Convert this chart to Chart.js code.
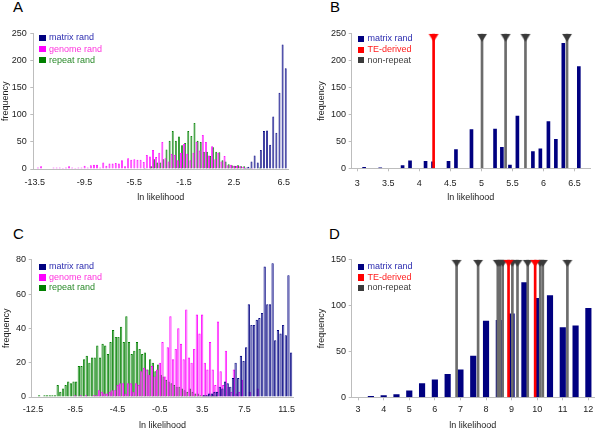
<!DOCTYPE html>
<html>
<head>
<meta charset="utf-8">
<script src="https://cdn.jsdelivr.net/npm/chart.js@4.4.1/dist/chart.umd.min.js"></script>
<style>
  body { margin: 0; width: 600px; height: 436px; background: #fff; position: relative; overflow: hidden;
         font-family: "Liberation Sans", Arial, sans-serif; }
  canvas { position: absolute; }
  .letter { position: absolute; font-size: 15px; line-height: 15px; color: #000; }
  .lg-sq { position: absolute; width: 6.4px; height: 6.4px; }
  .lg-tx { position: absolute; font-size: 9px; line-height: 11px; height: 11px; white-space: nowrap; }
</style>
</head>
<body>
<div class="letter" style="left:13px;top:-1px">A</div>
<div class="letter" style="left:330px;top:-1px">B</div>
<div class="letter" style="left:13px;top:225.5px">C</div>
<div class="letter" style="left:329px;top:225.5px">D</div>
<canvas id="chartA" width="300" height="215" style="left:0;top:0"></canvas>
<canvas id="chartB" width="300" height="215" style="left:300px;top:0"></canvas>
<canvas id="chartC" width="300" height="221" style="left:0;top:215px"></canvas>
<canvas id="chartD" width="300" height="221" style="left:300px;top:215px"></canvas>
<script>
// ---------- panel A : random sequences, bins of 0.25 ----------
const binsA = [
  -13.5,-13.25,-13,-12.75,-12.5,-12.25,-12,-11.75,-11.5,-11.25,
  -11,-10.75,-10.5,-10.25,-10,-9.75,-9.5,-9.25,-9,-8.75,
  -8.5,-8.25,-8,-7.75,-7.5,-7.25,-7,-6.75,-6.5,-6.25,
  -6,-5.75,-5.5,-5.25,-5,-4.75,-4.5,-4.25,-4,-3.75,
  -3.5,-3.25,-3,-2.75,-2.5,-2.25,-2,-1.75,-1.5,-1.25,
  -1,-0.75,-0.5,-0.25,0,0.25,0.5,0.75,1,1.25,
  1.5,1.75,2,2.25,2.5,2.75,3,3.25,3.5,3.75,
  4,4.25,4.5,4.75,5,5.25,5.5,5.75,6,6.25,
  6.5,6.75];
const ticksA = [-13.5, -9.5, -5.5, -1.5, 2.5, 6.5];
const matrixA = [
  0,0,0,0,0,0,0,0,0,0, 0,0,0,0,0,0,0,0,0,0,
  0,0,0,0,0,0,0,0,0,0, 0,0,0,0,0,0,0,0,0,0,
  0,0,0,0,0,0,0,0,0,0, 0,0,0,0,0,0,0,0,0,0,
  0,0,0,0,0,0,0,1,2,4, 14,25,12,35,70,71,45,97,67,141,
  230,186];
const genomeA = [
  0,3,5,0,0,0,3,3,3,2, 3,5,3,2,3,3,6,3,7,8,
  8,3,12,6,10,10,11,10,16,5, 20,17,18,17,17,13,26,23,35,22,
  30,50,20,14,28,26,16,30,46,28, 16,30,50,34,63,50,25,42,18,30,
  14,24,7,8,6,6,5,4,3,2, 2,1,1,1,0,0,0,0,0,0,
  0,0];
const repeatA = [
  0,0,0,0,0,0,0,0,0,0, 0,0,0,0,0,0,0,0,0,0,
  0,0,0,0,0,0,0,0,0,0, 0,0,0,0,1,2,0,5,18,12,
  12,18,36,52,70,52,60,44,48,70, 61,85,52,50,32,32,24,40,32,31,
  16,14,9,7,6,7,5,5,3,2, 1,1,3,1,1,0,0,1,0,0,
  0,0];

// ---------- panel B : matrix rand vs. real sites ----------
const binsB = [3.11,3.37,3.73,3.85,4.1,4.22,4.47,4.59,4.84,5.22,5.33,5.46,5.58,5.83,5.95,6.08,6.2,6.32,6.57];
const matrixB = [2,1,5,14,13,12,13,35,72,73,39,6,97,31,36,87,54,232,189];
const teB = [4.23];
const nonRepeatB = [5.01, 5.39, 5.71, 6.38];
const ticksB = [3, 3.5, 4, 4.5, 5, 5.5, 6, 6.5];

// ---------- panel C ----------
const binsC = [
  -12.5,-12.25,-12,-11.75,-11.5,-11.25,-11,-10.75,-10.5,-10.25,
  -10,-9.75,-9.5,-9.25,-9,-8.75,-8.5,-8.25,-8,-7.75,
  -7.5,-7.25,-7,-6.75,-6.5,-6.25,-6,-5.75,-5.5,-5.25,
  -5,-4.75,-4.5,-4.25,-4,-3.75,-3.5,-3.25,-3,-2.75,
  -2.5,-2.25,-2,-1.75,-1.5,-1.25,-1,-0.75,-0.5,-0.25,
  0,0.25,0.5,0.75,1,1.25,1.5,1.75,2,2.25,
  2.5,2.75,3,3.25,3.5,3.75,4,4.25,4.5,4.75,
  5,5.25,5.5,5.75,6,6.25,6.5,6.75,7,7.25,
  7.5,7.75,8,8.25,8.5,8.75,9,9.25,9.5,9.75,
  10,10.25,10.5,10.75,11,11.25,11.5,11.75,12];
const ticksC = [-12.5, -8.5, -4.5, -0.5, 3.5, 7.5, 11.5];
const matrixC = [
  0,0,0,0,0,0,0,0,0,0, 0,0,0,0,0,0,0,0,0,0,
  0,0,0,0,0,0,0,0,0,0, 0,0,0,0,0,0,0,0,0,0,
  0,0,0,0,0,0,0,0,0,0, 0,0,0,0,0,0,0,0,0,0,
  0,0,0,0,0,1,1,2,2,3, 3,6,5,9,8,6,11,20,11,24,
  21,29,54,42,42,45,46,49,76,54, 54,78,33,39,37,42,36,71,26];
const genomeC = [
  0,0,0,0,0,0,0,0,0,0, 0,0,0,0,0,0,1,0,1,0,
  1,0,0,1,1,4,3,2,2,3, 4,4,7,8,8,2,8,8,3,8,
  7,15,17,16,13,18,12,16,20,32, 12,29,47,22,28,40,31,22,51,23,
  20,28,48,37,48,20,16,32,16,7, 44,15,7,27,6,3,16,2,3,10,
  0,0,3,0,0,5,0,0,0,0, 0,0,0,0,0,0,0,0,0];
const repeatC = [
  0,0,1,0,1,1,1,1,1,7, 3,5,7,9,8,9,9,18,18,22,
  24,20,23,23,30,23,31,30,25,32, 39,35,35,41,32,47,32,25,27,32,
  28,25,26,16,22,20,15,19,13,12, 10,9,8,7,6,6,5,4,3,5,
  3,2,2,1,1,1,1,1,1,1, 0,0,0,0,0,0,0,0,0,0,
  0,0,0,0,0,0,0,0,0,0, 0,0,0,0,0,0,0,0,0];

// ---------- panel D ----------
const binsD = [3.5,4,4.5,5,5.5,6,6.5,7,7.5,8,8.5,9,9.5,10,10.5,11,11.5,12];
const matrixD = [1,2,3,7,15,19,25,30,45,83,84,91,125,108,111,76,78,97];
const teD = [8.88, 9.92];
const nonRepeatD = [6.85, 7.69, 8.46, 8.54, 8.65, 9.03, 9.23, 9.63, 10.12, 10.22, 11.18];
const ticksD = [3, 4, 5, 6, 7, 8, 9, 10, 11, 12];

const legendRand = ['matrix rand', 'genome rand', 'repeat rand'];
const legendSites = ['matrix rand', 'TE-derived', 'non-repeat'];

// colours
const NAVY = '#000080', MAGENTA = '#ff00ff', GREEN = '#008000';
const RED = '#ff0000', DARK = '#3a3a3a', GREYLINE = '#6c6c6c';
const AXIS = '#bdbdbd', TXT = '#222';
const randSq = [NAVY, MAGENTA, GREEN], randTx = ['#2c2cb0', '#ff33dd', '#2a8a2a'];
const siteSq = [NAVY, RED, DARK], siteTx = ['#2c2cb0', '#ff2020', '#404040'];

Chart.defaults.font.family = '"Liberation Sans", Arial, sans-serif';
Chart.defaults.font.size = 9;
Chart.defaults.color = TXT;
const FONT = { size: 9 };

function legend(x, rows, labels, sq, tx) {
  labels.forEach((l, i) => {
    const s = document.createElement('div');
    s.className = 'lg-sq';
    s.style.left = x + 'px'; s.style.top = (rows[i] - 3.2) + 'px'; s.style.background = sq[i];
    document.body.appendChild(s);
    const t = document.createElement('div');
    t.className = 'lg-tx';
    t.style.left = (x + 9.7) + 'px'; t.style.top = (rows[i] - 5.8) + 'px'; t.style.color = tx[i];
    t.textContent = l;
    document.body.appendChild(t);
  });
}

function yAxis(g, yMax, yStep) {
  return {
    min: 0, max: yMax,
    ticks: { stepSize: yStep, padding: g.yPad, font: FONT, color: TXT },
    grid: { drawOnChartArea: false, tickLength: 3, color: AXIS },
    border: { color: AXIS },
    title: { display: true, text: 'frequency', padding: 0, font: FONT, color: TXT },
    afterFit(s) { s.width = g.yW; }
  };
}
function xTitle(g) {
  return { display: true, text: 'ln likelihood', padding: { top: 0, bottom: g.titleB }, font: FONT, color: TXT };
}
function baseOptions(g, scales) {
  return {
    responsive: false, animation: false, events: [],
    layout: { padding: { left: g.padL, top: g.top, right: g.padR, bottom: 0 } },
    plugins: { legend: { display: false }, tooltip: { enabled: false } },
    scales
  };
}

function histogram(id, bins, tickVals, series, yMax, yStep, g) {
  const lines = [NAVY, MAGENTA, GREEN];
  return new Chart(document.getElementById(id), {
    type: 'bar',
    data: {
      labels: bins,
      datasets: series.map((d, k) => ({
        label: legendRand[k], data: d,
        backgroundColor: g.fills[k], borderColor: lines[k], borderWidth: g.bw,
        borderSkipped: 'start', categoryPercentage: 1, barPercentage: g.barPct
      }))
    },
    options: baseOptions(g, {
      x: {
        type: 'category', offset: true,
        grid: { display: false, drawTicks: false },
        border: { color: AXIS },
        ticks: { autoSkip: false, maxRotation: 0, padding: g.xPad, font: FONT, color: TXT,
                 callback(v) { const b = bins[v]; return tickVals.includes(b) ? String(b) : ''; } },
        title: xTitle(g),
        afterFit(s) { s.height = g.xH; }
      },
      y: yAxis(g, yMax, yStep)
    })
  });
}

function triangleImage(color, w, h) {
  const c = document.createElement('canvas');
  c.width = w + 2; c.height = 2 * h + 2;
  const ctx = c.getContext('2d');
  ctx.fillStyle = color;
  ctx.beginPath();
  ctx.moveTo(1, h + 1); ctx.lineTo(w + 1, h + 1); ctx.lineTo(w / 2 + 1, 2 * h + 1);
  ctx.closePath(); ctx.fill();
  return c;
}

function siteChart(id, bins, values, te, nonRep, xMin, xMax, xTicks, yMax, yStep, g) {
  const atTop = xs => xs.map(x => ({ x, y: yMax }));
  return new Chart(document.getElementById(id), {
    type: 'bar',
    data: {
      datasets: [
        { type: 'bar', label: 'matrix rand', data: bins.map((x, i) => ({ x, y: values[i] })),
          backgroundColor: NAVY, barThickness: g.barW, grouped: false, order: 3 },
        { type: 'bar', label: 'non-repeat', data: atTop(nonRep),
          backgroundColor: GREYLINE, barThickness: 2, grouped: false, order: 2 },
        { type: 'bar', label: 'TE-derived', data: atTop(te),
          backgroundColor: RED, barThickness: 2, grouped: false, order: 2 },
        { type: 'line', data: atTop(nonRep), showLine: false, pointRadius: 5,
          pointStyle: triangleImage(DARK, g.triW, g.triH), order: 1 },
        { type: 'line', data: atTop(te), showLine: false, pointRadius: 5,
          pointStyle: triangleImage(RED, g.triW, g.triH), order: 0 }
      ]
    },
    options: baseOptions(g, {
      x: {
        type: 'linear', offset: false, min: xMin, max: xMax,
        grid: { drawOnChartArea: false, offset: false, tickLength: 3, color: AXIS },
        border: { color: AXIS },
        afterBuildTicks(s) { s.ticks = xTicks.map(v => ({ value: v })); },
        ticks: { maxRotation: 0, padding: g.xPad, font: FONT, color: TXT, callback: v => String(v) },
        title: xTitle(g),
        afterFit(s) { s.height = g.xH; }
      },
      y: yAxis(g, yMax, yStep)
    })
  });
}

histogram('chartA', binsA, ticksA, [matrixA, genomeA, repeatA], 250, 50,
  { padL: 0, top: 33.7, padR: 11.7, yW: 33.3, xH: 46, yPad: 3.5, xPad: 8, titleB: 12.3,
    bw: 0.8, barPct: 1.9, fills: ['#3c3ca4', '#ff4dff', '#2c962c'] });
siteChart('chartB', binsB, matrixB, teB, nonRepeatB, 2.91, 6.75, ticksB, 250, 50,
  { padL: 16, top: 33.7, padR: 10, yW: 35.7, xH: 46.7, yPad: 2.7, xPad: 6.6, titleB: 12.3, barW: 3, triW: 10, triH: 8 });
histogram('chartC', binsC, ticksC, [matrixC, genomeC, repeatC], 80, 20,
  { padL: 1.3, top: 44.7, padR: 6.7, yW: 30.4, xH: 39, yPad: 2.7, xPad: 7.6, titleB: 4.9,
    bw: 0.9, barPct: 2.6, fills: ['#7070bc', '#ff88ff', '#5aac5a'] });
siteChart('chartD', binsD, matrixD, teD, nonRepeatD, 2.75, 12.22, ticksD, 150, 50,
  { padL: 16, top: 44.7, padR: 2.3, yW: 35.7, xH: 38.7, yPad: 2.7, xPad: 4.3, titleB: 4.9, barW: 5.5, triW: 10, triH: 7 });

legend(39.3, [38, 49.3, 60.3], legendRand, randSq, randTx);
legend(357.7, [38.8, 49.7, 60.3], legendSites, siteSq, siteTx);
legend(39.3, [267, 277.5, 288], legendRand, randSq, randTx);
legend(357.7, [267, 277.5, 288], legendSites, siteSq, siteTx);
</script>
</body>
</html>
